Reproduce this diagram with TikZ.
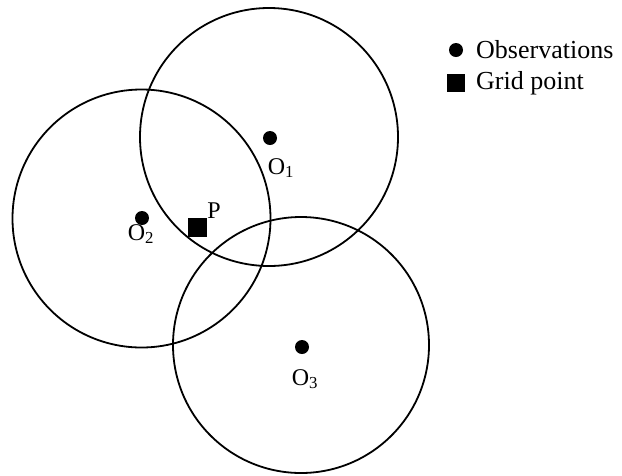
\documentclass[tikz,border=0pt]{standalone}
\usepackage{fontspec}
\setmainfont{Liberation Serif}
\begin{document}
\begin{tikzpicture}[x=1pt,y=-1pt,
  ring/.style={line width=1.8pt},
  obs/.style={circle,fill=black,inner sep=0pt,minimum size=14pt},
  gridpt/.style={rectangle,fill=black,inner sep=0pt,minimum size=19pt},
  lbl/.style={font=\fontsize{24}{27}\selectfont,inner sep=0pt},
  leg/.style={font=\fontsize{26}{29}\selectfont,inner sep=0pt,anchor=west}]
\useasboundingbox (0,0) rectangle (622,475);
% range circles
\draw[ring] (269,137) circle (129pt);
\draw[ring] (141.5,218.5) circle (129pt);
\draw[ring] (301,345) circle (128pt);
% observations
\node[obs] (o1) at (270,138) {};
\node[obs] (o2) at (142,218) {};
\node[obs] (o3) at (302,347) {};
\node[lbl] (l1) at (281,168) {O\textsubscript{1}};
\node[lbl] (l2) at (141,234) {O\textsubscript{2}};
\node[lbl] (l3) at (305,379) {O\textsubscript{3}};
% grid point
\node[gridpt] (p) at (197.5,227.5) {};
\node[lbl] (pl) at (214,211) {P};
% legend
\node[obs] (lo) at (456,50) {};
\node[leg] (lot) at (476,50) {Observations};
\node[gridpt,minimum size=18pt] (lg) at (456,83) {};
\node[leg] (lgt) at (476,83) {Grid point};
\end{tikzpicture}
\end{document}
